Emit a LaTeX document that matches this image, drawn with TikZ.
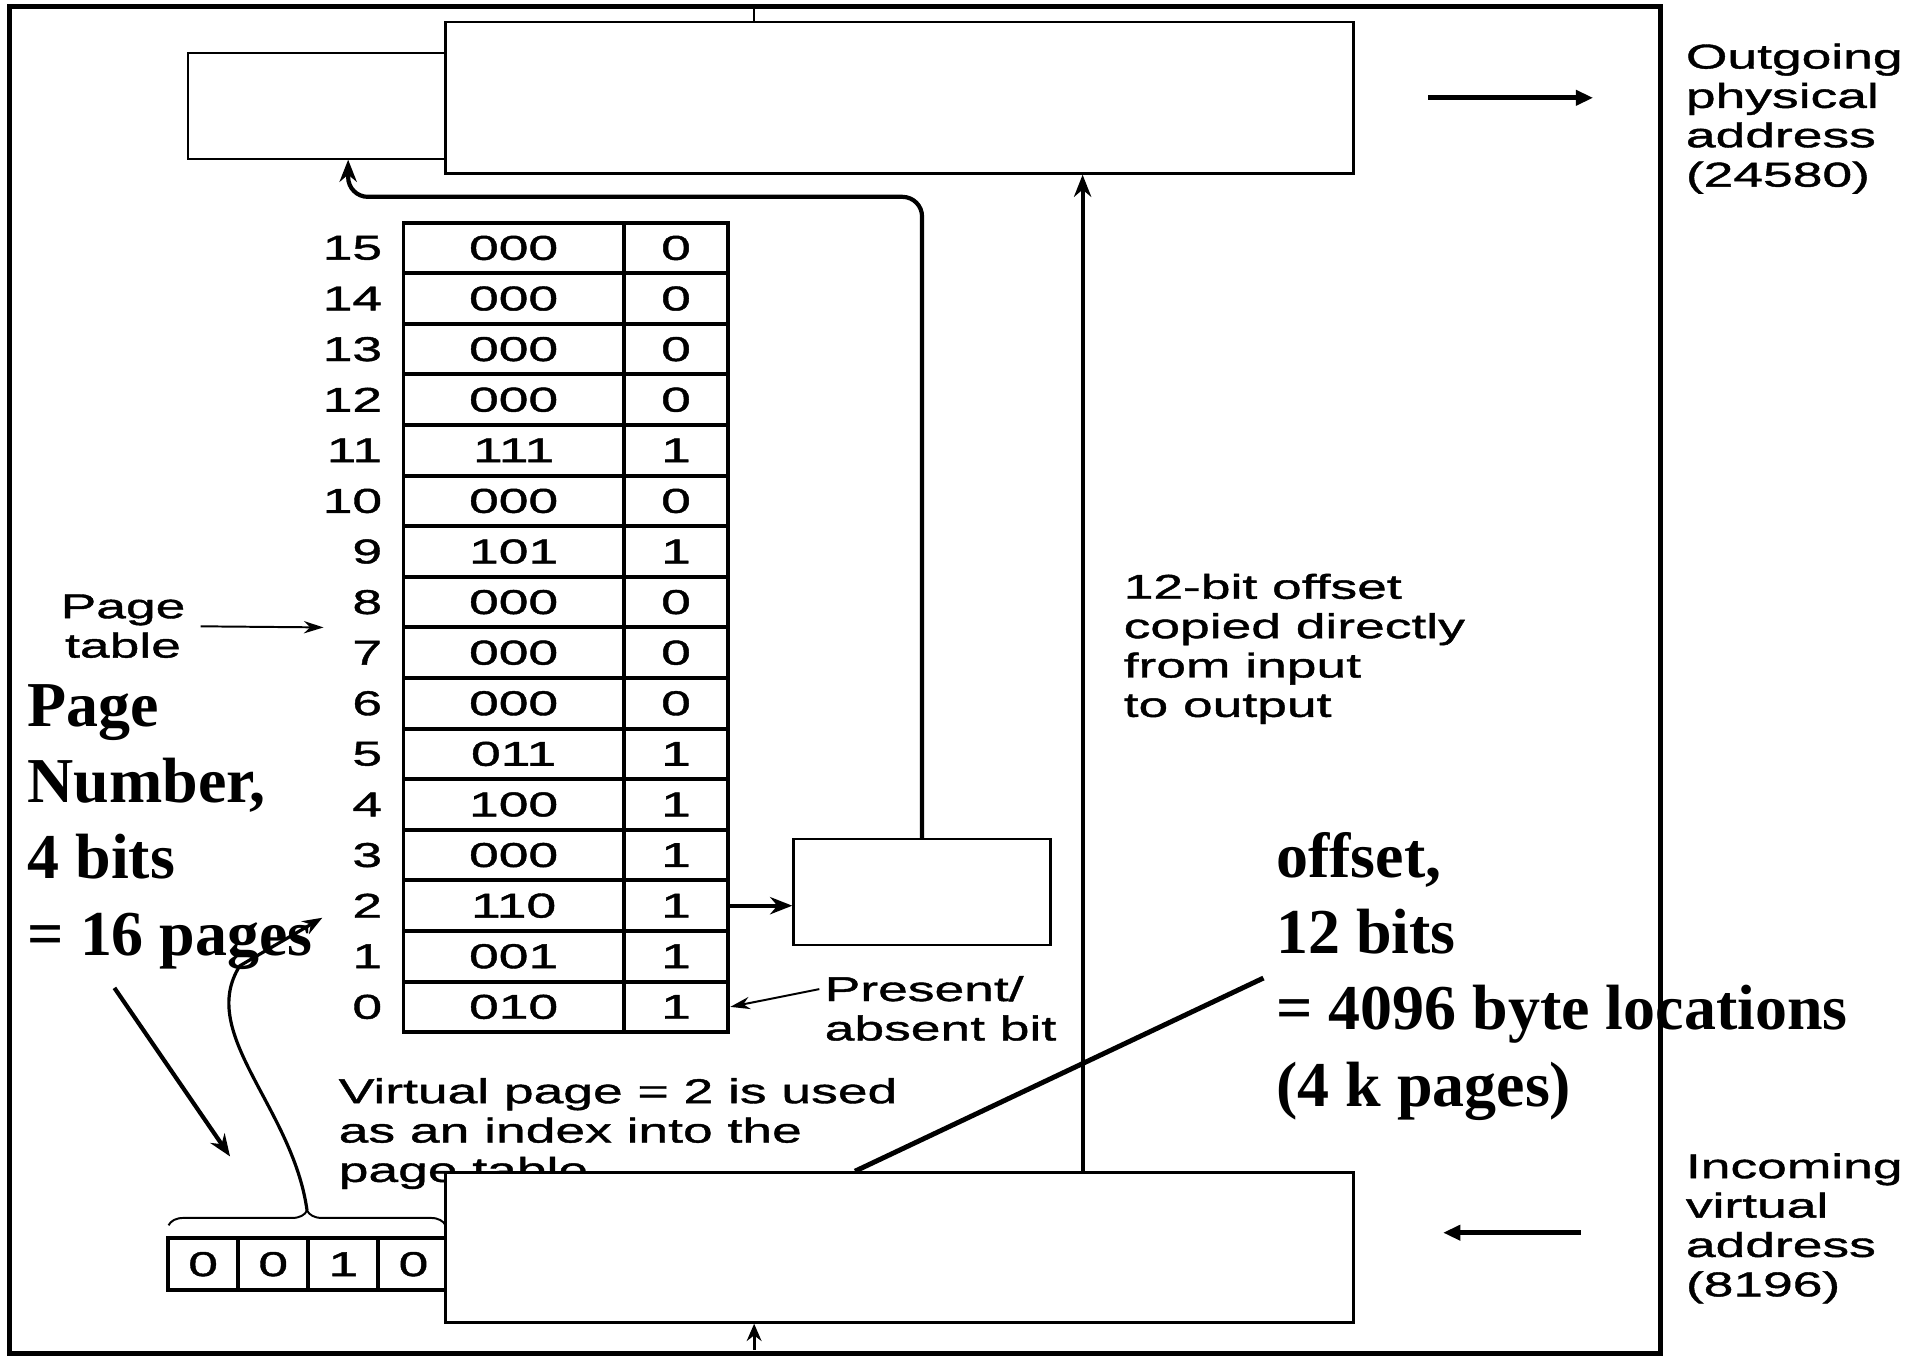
\documentclass[tikz,border=0pt]{standalone}
\usepackage{fontspec}
\usetikzlibrary{arrows.meta,fit,decorations.pathreplacing,calc}
\newfontfamily\hv[FakeStretch=1.55,FakeBold=1.2]{Liberation Sans}
\newfontfamily\tm{Liberation Serif}
\begin{document}
\begin{tikzpicture}[x=0.5pt,y=-0.5pt,
  box/.style={draw, line width=1pt, fill=white, inner sep=0pt},
  cell/.style={draw, line width=1.6pt, inner sep=0pt, font=\hv\fontsize{14}{16}\selectfont},
  lbl/.style={inner sep=0pt, font=\hv\fontsize{14}{16}\selectfont, align=left},
  big/.style={inner sep=0pt, font=\tm\bfseries\fontsize{26}{31}\selectfont, align=left},
  fatarrow/.style={line width=2pt, -{Triangle[length=7pt,width=6pt]}},
  conn/.style={line width=1.7pt, -{Stealth[length=9pt,width=7pt]}},
  thinarrow/.style={line width=0.8pt, -{Stealth[length=8pt,width=5pt]}}
]
\useasboundingbox (0,0) rectangle (1568,1103);
% outer frame
\draw[line width=2pt] (8,5) rectangle (1350,1100);

% helper coordinates
\coordinate (ry) at (0,160);
\coordinate (ax) at (283,0);
\coordinate (ofx) at (880,0);
\coordinate (tk) at (613,0);
\coordinate (dx) at (695,0);
\coordinate (dend) at (1027,795);
\coordinate (ia) at (1285,1002);
\coordinate (na1) at (93,803);
\coordinate (na2) at (187,940);
\coordinate (c2) at (262,746);
\coordinate (ptend) at (263,510);

% texts
\node[lbl, anchor=north west] (out) at (1370,35) {Outgoing\\physical\\address\\(24580)};
\node[lbl, anchor=north west] (inc) at (1370,937) {Incoming\\virtual\\address\\(8196)};
\node[lbl, anchor=north west] (ofs) at (913,466) {12-bit offset\\copied directly\\from input\\to output};
\node[lbl, align=center] (ptl) at (100,509) {Page\\table};
\node[lbl, anchor=north west] (pab) at (670,793) {Present/\\absent bit};
\node[lbl, anchor=north west] (vpt) at (275,876) {Virtual page = 2 is used\\as an index into the\\page table};

% page table
\foreach \i/\a/\b [count=\k from 0] in {15/000/0,14/000/0,13/000/0,12/000/0,11/111/1,10/000/0,9/101/1,8/000/0,7/000/0,6/000/0,5/011/1,4/100/1,3/000/1,2/110/1,1/001/1,0/010/1}{
  \pgfmathsetmacro\yc{181+(\k+0.5)*41.125}
  \node[cell, minimum width=89.5pt, minimum height=20.5625pt] (ta\i) at (417.5,\yc) {\a};
  \node[cell, minimum width=42.5pt, minimum height=20.5625pt] (tb\i) at (549.5,\yc) {\b};
  \node[lbl, anchor=east] (tl\i) at (311,\yc) {\i};
}

% top boxes
\node[box, line width=0.8pt, fit={(153,43)(362,129)}] (ps) {};
\node[box, fit={(362,18)(1100,141)}] (pb) {};
% middle box
\node[box, fit={(645,682)(854,768)}] (mb) {};

% bits
\foreach \b [count=\n from 0] in {0,0,1,0}{
  \node[cell, minimum width=28.5pt, minimum height=21pt, anchor=north west] (bit\n) at ({135+57*\n},1005) {\b};
}
\draw[decorate, decoration={brace, amplitude=6pt}, line width=0.8pt]
  ($(bit0.north west)+(2,-9)$) -- ($(bit3.north east)+(-4,-9)$) coordinate[pos=0.5] (bmid);
\coordinate (btip) at ($(bmid)+(0,-12)$);

% connectors
\draw[line width=1.7pt, rounded corners=8pt, -{Stealth[length=9pt,width=7pt]}]
  (mb.north) -- (mb.north |- ry) -- (ax |- ry) -- (ps.south -| ax);
\draw[conn] (tb2.east) -- (tb2.east -| mb.west);
\draw[thinarrow] ($(pab.north west)+(-4,11)$) -- (tb0.east);
\draw[thinarrow, shorten <=6pt] (ptl.east) -- (ptend);
\draw[fatarrow, shorten <=30pt, shorten >=37.5pt] (pb.east) -- (pb.east -| out.west);
\draw[line width=1.3pt, -{Stealth[length=8pt,width=6pt]}]
  (btip) .. controls (238,900) and (160,840) .. (195,785) -- (c2);
\draw[conn] (na1) -- (na2);
\draw[line width=0.6pt] (613,7) -- (pb.north -| tk);

% bottom box
\node[box, fit={(362,953)(1100,1075)}] (vb) {};
\draw[conn] (vb.north -| ofx) -- (pb.south -| ofx);
\draw[line width=2pt] (dx |- vb.north) -- (dend);
\draw[fatarrow, shorten >=36pt] (ia) -- (ia -| vb.east);
\draw[line width=1.3pt, -{Stealth[length=7pt,width=6pt]}] (613,1097) -- (vb.south -| tk);

% bold annotations
\node[big, anchor=north west] (pn) at (22,556) {Page\\Number,\\4 bits\\= 16 pages};
\node[big, anchor=north west] (os) at (1037,676) {offset,\\12 bits\\= 4096 byte locations\\(4 k pages)};
\end{tikzpicture}
\end{document}
